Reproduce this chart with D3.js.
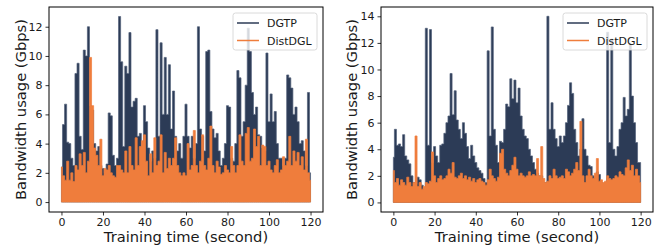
<!DOCTYPE html>
<html>
<head>
<meta charset="utf-8">
<script src="https://cdn.jsdelivr.net/npm/d3@7"></script>
<style>
  body { margin: 0; background: #fff; }
  text { font-family: "DejaVu Sans", sans-serif; fill: #1a1a1a; }
</style>
</head>
<body>
<svg id="chart" width="663" height="251"></svg>
<script>
// one sample per second, 0..120 s
const seconds = d3.range(0, 121);
const xTicks = [0, 20, 40, 60, 80, 100, 120];
const seriesNames = ["DGTP", "DistDGL"];

// left panel
const dgtpLeft = [2.4,5.3,6.7,4.1,4.0,3.0,2.5,8.8,9.5,4.5,3.6,10.4,10.0,12.0,6.6,6.3,4.0,3.5,3.8,2.5,
  2.3,2.0,2.6,6.1,5.9,3.2,2.5,3.0,12.7,9.6,3.8,9.3,8.8,11.6,6.5,6.9,7.1,4.5,4.7,3.5,
  6.6,5.5,3.7,2.8,3.5,3.0,11.8,4.5,10.9,6.0,9.9,6.0,9.4,5.0,7.6,4.5,3.5,4.0,3.0,4.5,
  6.7,4.5,3.7,4.5,3.0,4.0,12.0,5.0,4.5,3.5,10.3,10.4,6.2,5.0,4.4,4.7,3.5,2.5,3.0,4.0,
  6.6,6.5,3.0,2.8,4.0,9.0,8.5,4.5,5.5,8.0,11.9,10.3,7.5,6.0,6.5,4.6,4.5,3.7,3.5,10.2,
  5.5,7.4,5.5,6.2,4.0,3.0,3.0,2.5,3.0,8.7,8.5,7.8,6.0,6.5,5.5,4.0,4.2,3.5,2.5,7.5,2.0];
const distdglLeft = [2.4,1.8,1.5,2.8,1.5,2.0,1.4,2.5,2.2,3.3,2.5,3.4,2.0,2.8,9.9,6.6,3.7,3.2,2.5,4.3,
  1.8,2.3,2.2,2.5,2.0,1.8,1.7,2.5,2.5,2.2,2.0,3.5,2.0,3.8,2.5,2.2,4.4,2.5,3.8,4.2,
  4.6,2.8,1.8,3.3,2.0,4.4,2.5,2.8,4.6,2.0,3.4,2.3,3.0,2.5,3.0,4.4,2.5,2.0,1.8,2.0,
  1.8,4.0,2.2,2.5,4.9,2.5,2.0,2.8,4.6,2.5,2.2,3.0,5.2,2.5,2.0,2.8,2.4,1.9,2.0,2.5,
  2.2,2.0,3.8,2.5,2.0,2.5,4.6,2.8,2.5,4.7,5.1,2.8,3.0,5.0,3.8,4.5,2.5,3.9,3.8,2.5,
  2.8,2.2,2.0,2.5,2.9,2.0,2.2,3.1,2.5,2.8,4.5,2.5,3.5,2.8,3.4,2.5,3.1,2.2,4.3,2.0,1.5];

// right panel
const dgtpRight = [3.4,5.5,4.3,4.4,4.2,5.1,3.5,3.2,2.9,2.0,1.5,1.4,1.9,1.7,1.3,1.0,13.1,4.3,13.0,3.0,
  4.2,3.5,3.0,4.3,4.4,5.2,6.0,6.5,9.7,6.6,8.4,6.2,5.5,4.8,6.0,5.2,4.2,3.3,4.3,3.5,
  3.0,2.6,2.4,2.2,1.8,1.5,11.4,5.0,13.2,5.5,4.3,3.0,4.6,4.5,5.5,7.4,7.2,9.3,7.8,9.2,
  7.5,8.6,6.5,5.5,5.0,4.8,4.0,3.5,3.0,2.5,2.2,2.0,2.0,1.5,1.5,14.0,5.5,7.5,5.5,4.8,
  4.2,5.0,4.5,5.0,6.0,7.3,9.0,8.2,5.5,4.5,3.5,4.0,6.3,4.0,3.5,2.8,2.7,2.0,1.8,2.3,
  2.1,1.5,1.4,1.5,12.8,4.5,12.3,4.0,3.5,4.2,5.5,6.0,7.9,6.5,7.0,11.9,8.0,6.0,4.5,3.0,3.0];
const distdglRight = [2.4,1.5,1.8,1.3,1.7,1.5,1.3,1.9,1.5,1.2,1.5,5.0,1.2,1.5,1.0,1.2,1.5,1.4,1.6,3.8,
  2.0,1.5,1.8,2.0,1.7,1.8,2.0,2.5,2.2,3.0,1.9,1.8,2.0,2.2,1.8,2.0,1.7,1.9,1.6,1.8,
  1.5,1.7,1.8,1.6,1.5,1.3,1.7,2.5,2.0,1.8,1.6,1.9,3.7,4.0,2.5,2.2,2.0,2.4,2.8,3.4,
  2.5,2.0,2.2,2.0,1.9,2.0,2.3,2.0,2.1,2.0,3.3,2.0,4.2,1.8,1.5,1.6,2.0,1.8,2.5,2.0,
  1.8,1.9,2.0,1.8,2.5,2.3,2.0,2.2,2.5,3.0,2.4,6.1,2.0,1.5,2.0,2.5,2.0,1.8,2.2,3.3,
  1.6,1.7,1.5,1.6,2.0,1.8,1.7,1.8,2.0,1.9,2.3,2.1,2.0,2.6,3.2,2.4,2.8,2.0,2.5,2.0,1.5];

const colors = { DGTP: "#2c3b56", DistDGL: "#ef7d3c" };
const edges = { DGTP: "#52607a", DistDGL: "#ef7d3c" };

const panels = [
  { left: 49, right: 323, labelX: 26, yDomain: [-0.68, 13.35], yTicks: [0, 2, 4, 6, 8, 10, 12],
    series: { DGTP: dgtpLeft, DistDGL: distdglLeft } },
  { left: 381, right: 653, labelX: 357, yDomain: [-0.72, 14.7], yTicks: [0, 2, 4, 6, 8, 10, 12, 14],
    series: { DGTP: dgtpRight, DistDGL: distdglRight } }
];
const plotTop = 7, plotBottom = 212;

const svg = d3.select("#chart");

panels.forEach(p => {
  const x = d3.scaleLinear().domain([-6, 126]).range([p.left, p.right]);
  const y = d3.scaleLinear().domain(p.yDomain).range([plotBottom, plotTop]);
  const g = svg.append("g");

  // the series oscillate so fast that they read as filled bands with sharp vertical spikes
  seriesNames.forEach(name => {
    const vals = p.series[name];
    const area = d3.area()
      .curve(d3.curveStep)
      .x((d, i) => x(seconds[i]))
      .y0(y(0))
      .y1(d => y(d));
    g.append("path")
      .datum(vals)
      .attr("d", area)
      .attr("fill", colors[name])
      .attr("stroke", edges[name])
      .attr("stroke-width", 0.7)
      .attr("stroke-linejoin", "miter");
  });

  // axes
  const xAxis = d3.axisBottom(x).tickValues(xTicks).tickSize(3.5).tickPadding(3);
  const yAxis = d3.axisLeft(y).tickValues(p.yTicks).tickSize(3.5).tickPadding(3);
  const gx = g.append("g").attr("transform", `translate(0,${plotBottom})`).call(xAxis);
  const gy = g.append("g").attr("transform", `translate(${p.left},0)`).call(yAxis);
  [gx, gy].forEach(a => {
    a.select(".domain").remove();
    a.selectAll("line").attr("stroke", "#000").attr("stroke-width", 0.8);
    a.selectAll("text").attr("font-size", 11).attr("fill", "#1a1a1a")
      .style("font-family", "DejaVu Sans, sans-serif");
  });

  g.append("rect")
    .attr("x", p.left).attr("y", plotTop)
    .attr("width", p.right - p.left).attr("height", plotBottom - plotTop)
    .attr("fill", "none").attr("stroke", "#000").attr("stroke-width", 1);

  g.append("text")
    .attr("x", (p.left + p.right) / 2).attr("y", 242)
    .attr("text-anchor", "middle").attr("font-size", 14.7)
    .text("Training time (second)");
  g.append("text")
    .attr("transform", `translate(${p.labelX},${(plotTop + plotBottom) / 2}) rotate(-90)`)
    .attr("text-anchor", "middle").attr("font-size", 14.7)
    .text("Bandwidth usage (Gbps)");

  // legend
  const lg = g.append("g").attr("transform", `translate(${p.right - 90},13)`);
  lg.append("rect").attr("width", 84).attr("height", 37).attr("rx", 2.5)
    .attr("fill", "#fff").attr("fill-opacity", 0.8)
    .attr("stroke", "#d0d0d0").attr("stroke-width", 0.8);
  seriesNames.forEach((name, i) => {
    const ly = 10 + i * 17.5;
    lg.append("line").attr("x1", 4).attr("x2", 26).attr("y1", ly).attr("y2", ly)
      .attr("stroke", colors[name]).attr("stroke-width", 1.5);
    lg.append("text").attr("x", 34).attr("y", ly + 4).attr("font-size", 11).text(name);
  });
});
</script>
</body>
</html>
